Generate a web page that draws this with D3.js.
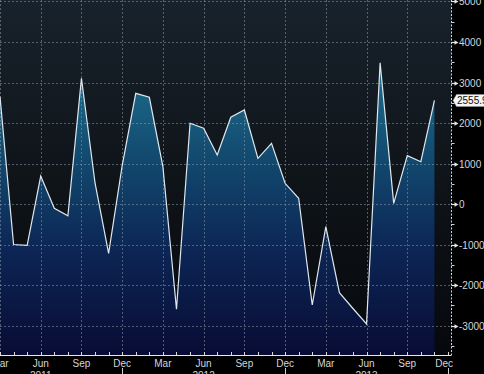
<!DOCTYPE html>
<html><head><meta charset="utf-8">
<script src="https://cdn.jsdelivr.net/npm/d3@7"></script>
<style>body{margin:0;background:#000;}svg{display:block;}</style>
</head><body>
<svg id="c" width="484" height="374"></svg>
<script>
// Monthly series, Mar 2011 .. Nov 2013
const months = ["Mar 2011","Apr 2011","May 2011","Jun 2011","Jul 2011","Aug 2011","Sep 2011","Oct 2011","Nov 2011","Dec 2011",
  "Jan 2012","Feb 2012","Mar 2012","Apr 2012","May 2012","Jun 2012","Jul 2012","Aug 2012","Sep 2012","Oct 2012","Nov 2012","Dec 2012",
  "Jan 2013","Feb 2013","Mar 2013","Apr 2013","May 2013","Jun 2013","Jul 2013","Aug 2013","Sep 2013","Oct 2013","Nov 2013"];
const values = [2650,-1000,-1020,691,-106,-289,3104,519,-1217,950,
  2733,2635,921,-2600,1993,1869,1210,2141,2321,1128,1499,511,
  141,-2494,-560,-2190,-2580,-2963,3489,17,1193,1044,2555.9];
const lastLabel = "2555.9";
// x tick labels (month index from Mar 2011)
const xTickIdx = [0,3,6,9,12,15,18,21,24,27,30,33];
const xTickLabels = ["Mar","Jun","Sep","Dec","Mar","Jun","Sep","Dec","Mar","Jun","Sep","Dec"];
const yearIdx = [3,15,27];
const yearLabels = ["2011","2012","2013"];
const yearSepIdx = [9,21,33];
const yTicks = [-3000,-2000,-1000,0,1000,2000,3000,4000,5000];
const yMinor = [-3500,-2500,-1500,-500,500,1500,2500,3500,4500];

const W = 484, H = 374, plotR = 451.5, plotB = 355;
const svg = d3.select("#c");
const x = d3.scaleLinear().domain([0, 33]).range([0, 448]);
const y = d3.scaleLinear().domain([-3728, 5037]).range([plotB, 0]);

const defs = svg.append("defs");
const bg = defs.append("linearGradient").attr("id","bg").attr("x1",0).attr("y1",0).attr("x2",0).attr("y2",1);
bg.append("stop").attr("offset","0%").attr("stop-color","#18222c");
bg.append("stop").attr("offset","50%").attr("stop-color","#0f1419");
bg.append("stop").attr("offset","100%").attr("stop-color","#06080c");
const fg = defs.append("linearGradient").attr("id","fg").attr("gradientUnits","userSpaceOnUse")
  .attr("x1",0).attr("y1",0).attr("x2",0).attr("y2",plotB);
fg.append("stop").attr("offset","0%").attr("stop-color","#2180a0");
fg.append("stop").attr("offset","20%").attr("stop-color","#1c6c8c");
fg.append("stop").attr("offset","45%").attr("stop-color","#12496e");
fg.append("stop").attr("offset","70%").attr("stop-color","#0c2655");
fg.append("stop").attr("offset","100%").attr("stop-color","#080c34");

svg.append("rect").attr("x",0).attr("y",0).attr("width",plotR).attr("height",plotB).attr("fill","url(#bg)");

const pts = values.map((v,i)=>[i,v]);
svg.append("path").datum(pts)
  .attr("d", d3.area().x(d=>x(d[0])).y0(plotB).y1(d=>y(d[1])))
  .attr("fill","url(#fg)");

// grid
const grid = svg.append("g").attr("stroke","#8a98a6").attr("stroke-opacity",0.55).attr("stroke-dasharray","2,2").attr("stroke-width",1);
yTicks.forEach(t=>grid.append("line").attr("x1",0).attr("x2",plotR).attr("y1",Math.round(y(t))+0.5).attr("y2",Math.round(y(t))+0.5));
xTickIdx.slice(0,-1).forEach(i=>grid.append("line").attr("x1",Math.round(x(i))+0.5).attr("x2",Math.round(x(i))+0.5).attr("y1",0).attr("y2",plotB));

// line
svg.append("path").datum(pts)
  .attr("d", d3.line().x(d=>x(d[0])).y(d=>y(d[1])))
  .attr("fill","none").attr("stroke","#dfe8ee").attr("stroke-width",1.2).attr("stroke-linejoin","miter");

// right axis
svg.append("line").attr("x1",plotR).attr("x2",plotR).attr("y1",0).attr("y2",plotB)
  .attr("stroke","#cfd6dc").attr("stroke-dasharray","2,1.5").attr("stroke-width",1);
const ra = svg.append("g");
yTicks.forEach(t=>{
  const yy = Math.round(y(t))+0.5;
  ra.append("path").attr("d",`M${plotR},${yy}H${plotR+4}`).attr("stroke","#e6e6e6").attr("stroke-width",1.2);
  ra.append("path").attr("d",`M${plotR+3},${yy-2.2}L${plotR+7},${yy}L${plotR+3},${yy+2.2}Z`).attr("fill","#e6e6e6");
  ra.append("text").attr("x",459).attr("y",yy).attr("dy","0.36em")
    .attr("font-family","Liberation Sans, Arial, sans-serif").attr("font-size",10).attr("fill","#d4d6d8")
    .text(t);
});
yMinor.forEach(t=>{
  const yy = Math.round(y(t))+0.5;
  ra.append("path").attr("d",`M${plotR},${yy}H${plotR+3}`).attr("stroke","#cfcfcf").attr("stroke-width",1);
});

// last value box
const ly = y(values[values.length-1]);
const lb = svg.append("g");
lb.append("path").attr("d",`M${plotR+1.5},${ly} L${plotR+5},${ly-6} H490 V${ly+6} H${plotR+5} Z`)
  .attr("fill","#f4f4f4").attr("stroke","#9a9a9a").attr("stroke-width",0.5);
lb.append("text").attr("x",457).attr("y",ly).attr("dy","0.36em")
  .attr("font-family","Liberation Sans, Arial, sans-serif").attr("font-size",10).attr("fill","#111")
  .text(lastLabel);

// bottom axis
svg.append("line").attr("x1",0).attr("x2",plotR).attr("y1",plotB+0.5).attr("y2",plotB+0.5).attr("stroke","#e8e8e8").attr("stroke-width",1.2);
const ba = svg.append("g");
d3.range(0,34).forEach(i=>{
  const xx = Math.round(x(i))+0.5;
  ba.append("line").attr("x1",xx).attr("x2",xx).attr("y1",plotB-3).attr("y2",plotB).attr("stroke","#d8d8d8").attr("stroke-width",1);
});
xTickIdx.forEach((i,k)=>{
  const last = k===xTickIdx.length-1;
  ba.append("text").attr("x", last ? 453 : x(i)).attr("y",367)
    .attr("text-anchor", last ? "end" : "middle")
    .attr("font-family","Liberation Sans, Arial, sans-serif").attr("font-size",10).attr("fill","#d4d6d8")
    .text(xTickLabels[k]);
});
yearIdx.forEach((i,k)=>{
  ba.append("text").attr("x",x(i)).attr("y",379).attr("text-anchor","middle")
    .attr("font-family","Liberation Sans, Arial, sans-serif").attr("font-size",10).attr("fill","#d4d6d8")
    .text(yearLabels[k]);
});
yearSepIdx.forEach(i=>{
  const xx = Math.round(x(i))+0.5;
  ba.append("line").attr("x1",xx).attr("x2",xx).attr("y1",368).attr("y2",374).attr("stroke","#cfcfcf").attr("stroke-width",1);
});
</script>
</body></html>
